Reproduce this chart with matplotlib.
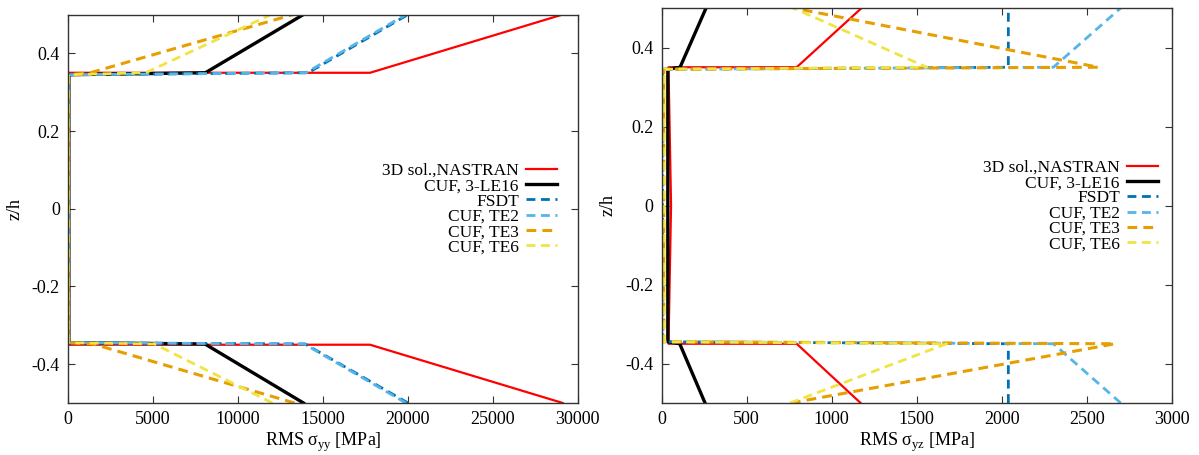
import matplotlib
matplotlib.use("Agg")
import matplotlib.pyplot as plt

plt.rcParams['font.family'] = ['Liberation Serif', 'DejaVu Serif']
plt.rcParams['mathtext.fontset'] = 'custom'
plt.rcParams['mathtext.rm'] = 'Liberation Serif'
plt.rcParams['axes.unicode_minus'] = False

# ---------------- data ----------------
series_names = ["3D sol.,NASTRAN", "CUF, 3-LE16", "FSDT", "CUF, TE2", "CUF, TE3", "CUF, TE6"]

# left panel: RMS sigma_yy [MPa] vs z/h
z_yy_red = [-0.5, -0.35, -0.35, 0.35, 0.35, 0.5]
x_yy_red = [29130, 17780, 30, 30, 17780, 29130]
z_yy_oth = [-0.5, -0.348, -0.345, 0.345, 0.35, 0.5]
x_yy_black = [13860, 8050, 40, 40, 8080, 13860]
x_yy_fsdt = [20020, 13950, 20, 20, 14130, 20020]
x_yy_te2 = [19900, 13900, 20, 20, 14000, 19900]
x_yy_te3 = [13330, 1460, 20, 20, 1300, 13260]
x_yy_te6 = [12030, 5070, 20, 20, 4550, 11960]

# right panel: RMS sigma_yz [MPa] vs z/h
z_yz_red = [-0.5, -0.35, -0.35, 0.0, 0.35, 0.35, 0.5]
x_yz_red = [1170, 794, 40, 55, 40, 794, 1176]
z_yz_oth = [-0.5, -0.35, -0.345, 0.345, 0.35, 0.5]
x_yz_black = [255, 106, 36, 36, 108, 261]
x_yz_fsdt = [2039, 2039, 5, 5, 2039, 2039]
x_yz_te2 = [2700, 2304, 8, 8, 2304, 2700]
x_yz_te3 = [760, 2667, 12, 12, 2569, 774]
x_yz_te6 = [755, 1676, 15, 15, 1559, 774]

x_ticks_yy = [0, 5000, 10000, 15000, 20000, 25000, 30000]
x_ticks_yz = [0, 500, 1000, 1500, 2000, 2500, 3000]
y_ticks = [-0.4, -0.2, 0.0, 0.2, 0.4]
y_tick_labels = ["-0.4", "-0.2", "0", "0.2", "0.4"]

colors = ["#ff0000", "#000000", "#0072b2", "#56b4e9", "#e69f00", "#f0e442"]
dashed = (0, (3.2, 2.0))

W, H = 1199, 455
fig = plt.figure(figsize=(W / 100, H / 100), dpi=100)
axL = fig.add_axes([68.2 / W, (H - 403) / H, (577.5 - 68.2) / W, (403 - 14.5) / H])
axR = fig.add_axes([661.7 / W, (H - 403) / H, (1171.7 - 661.7) / W, (403 - 8) / H])


def draw(ax, zr, xr, zo, xs, xt, xlabel, leg_anchor):
    ax.plot(xr, zr, color=colors[0], lw=1.6, label=series_names[0])
    ax.plot(xs[0], zo, color=colors[1], lw=2.4, label=series_names[1])
    ax.plot(xs[1], zo, color=colors[2], lw=2.0, ls=dashed, label=series_names[2])
    ax.plot(xs[2], zo, color=colors[3], lw=2.0, ls=dashed, label=series_names[3])
    ax.plot(xs[3], zo, color=colors[4], lw=2.2, ls=dashed, label=series_names[4])
    ax.plot(xs[4], zo, color=colors[5], lw=2.0, ls=dashed, label=series_names[5])
    ax.set_xlim(xt[0], xt[-1])
    ax.set_ylim(-0.5, 0.5)
    ax.set_xticks(xt)
    ax.set_xticklabels([str(v) for v in xt])
    ax.set_yticks(y_ticks)
    ax.set_yticklabels(y_tick_labels)
    ax.tick_params(direction='in', top=True, right=True, length=5, width=0.8,
                   labelsize=13, colors='#333333', labelcolor='black', pad=6)
    for s in ax.spines.values():
        s.set_color('#333333')
        s.set_linewidth(1.0)
    ax.set_xlabel(xlabel, fontsize=13, labelpad=2)
    ax.set_ylabel("z/h", fontsize=13, labelpad=6)
    leg = ax.legend(loc='center right', bbox_to_anchor=leg_anchor, frameon=False,
                    markerfirst=False, fontsize=12.5, handlelength=1.8,
                    handletextpad=0.4, labelspacing=-0.05, borderpad=0,
                    borderaxespad=0)
    return leg


draw(axL, z_yy_red, x_yy_red, z_yy_oth,
     [x_yy_black, x_yy_fsdt, x_yy_te2, x_yy_te3, x_yy_te6],
     x_ticks_yy, r"RMS σ$_{\mathregular{yy}}$ [MPa]", (0.9597, 0.499))
draw(axR, z_yz_red, x_yz_red, z_yz_oth,
     [x_yz_black, x_yz_fsdt, x_yz_te2, x_yz_te3, x_yz_te6],
     x_ticks_yz, r"RMS σ$_{\mathregular{yz}}$ [MPa]", (0.9731, 0.4987))

fig.savefig("out.png", dpi=100)
